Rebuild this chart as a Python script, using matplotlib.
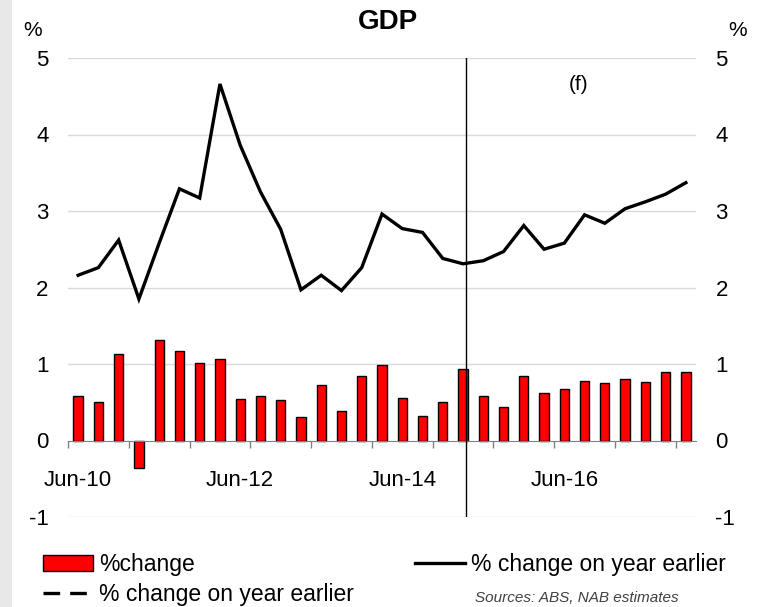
import numpy as np
import matplotlib.pyplot as plt
from matplotlib.lines import Line2D
from matplotlib.patches import Patch, Rectangle
from matplotlib.ticker import FixedLocator, NullFormatter

plt.rcParams['font.family'] = ['Liberation Sans', 'DejaVu Sans']

quarters = [
    "Jun-10", "Sep-10", "Dec-10", "Mar-11", "Jun-11", "Sep-11", "Dec-11", "Mar-12",
    "Jun-12", "Sep-12", "Dec-12", "Mar-13", "Jun-13", "Sep-13", "Dec-13", "Mar-14",
    "Jun-14", "Sep-14", "Dec-14", "Mar-15", "Jun-15", "Sep-15", "Dec-15", "Mar-16",
    "Jun-16", "Sep-16", "Dec-16", "Mar-17", "Jun-17", "Sep-17", "Dec-17",
]
qoq_change = [
    0.58, 0.50, 1.13, -0.36, 1.31, 1.17, 1.01, 1.07,
    0.54, 0.58, 0.53, 0.31, 0.73, 0.39, 0.84, 0.99,
    0.56, 0.32, 0.50, 0.94, 0.58, 0.44, 0.84, 0.62,
    0.67, 0.78, 0.75, 0.80, 0.77, 0.89, 0.89,
]
yoy_change = [
    2.16, 2.26, 2.62, 1.85, 2.58, 3.29, 3.17, 4.66,
    3.86, 3.25, 2.76, 1.97, 2.16, 1.96, 2.26, 2.96,
    2.77, 2.72, 2.38, 2.31, 2.35, 2.47, 2.81, 2.50,
    2.58, 2.95, 2.84, 3.03, 3.12, 3.22, 3.37,
]
shown_labels = ["Jun-10", "Jun-12", "Jun-14", "Jun-16"]
forecast_start = 19.15

W, H = 764, 607
fig = plt.figure(figsize=(W / 100, H / 100), dpi=100)
fig.patches.append(Rectangle((0, 0), 12 / W, 1, transform=fig.transFigure,
                             facecolor="#e8e8e8", edgecolor="none", zorder=0))

ax = fig.add_axes([68 / W, 1 - 517 / H, (696 - 68) / W, (517 - 58) / H])
x = np.arange(len(quarters))

ax.bar(x, qoq_change, width=0.46, color="#ff0000", edgecolor="black",
       linewidth=1, zorder=3)
ax.plot(x, yoy_change, color="black", linewidth=2.4, zorder=4,
        solid_joinstyle="miter")
ax.axvline(forecast_start, color="black", linewidth=1, zorder=5)

ax.set_xlim(-0.5, len(quarters) - 0.5)
ax.set_ylim(-1, 5)

for s in ["top", "right", "left"]:
    ax.spines[s].set_visible(False)
ax.spines["bottom"].set_position(("data", 0))
ax.spines["bottom"].set_color("#808080")
ax.spines["bottom"].set_zorder(4)

ax.set_yticks([-1, 0, 1, 2, 3, 4, 5])
ax.set_yticklabels(["-1", "0", "1", "2", "3", "4", "5"])
for v in [-1, 1, 2, 3, 4, 5]:
    ax.axhline(v, color="#d9d9d9", linewidth=1, zorder=1)
ax.tick_params(axis="y", length=0, labelsize=16, pad=14,
               labelleft=True, labelright=True)

ax.set_xticks([quarters.index(q) for q in shown_labels])
ax.set_xticklabels(shown_labels)
ax.xaxis.set_minor_locator(FixedLocator(np.arange(-0.5, len(quarters), 3)))
ax.xaxis.set_minor_formatter(NullFormatter())
ax.tick_params(axis="x", which="major", length=0, labelsize=16, pad=21)
ax.tick_params(axis="x", which="minor", length=5, width=1, color="#808080",
               direction="out")

ax.text(24.7, 4.66, "(f)", fontsize=15, ha="center", va="center")

fig.text(388 / W, 1 - 22 / H, "GDP", fontsize=20, fontweight="bold",
         ha="center", va="center")
fig.text(33 / W, 1 - 30 / H, "%", fontsize=15, ha="center", va="center")
fig.text(738 / W, 1 - 30 / H, "%", fontsize=15, ha="center", va="center")

handles = [
    Patch(facecolor="#ff0000", edgecolor="black", linewidth=1),
    Line2D([], [], color="black", linewidth=2.4, dashes=(5, 3)),
    Line2D([], [], color="black", linewidth=2.4),
]
labels = ["%change", "% change on year earlier", "% change on year earlier"]
fig.legend(handles, labels, ncol=2, loc="upper left",
           bbox_to_anchor=(43 / W, 1 - 553 / H), frameon=False, fontsize=16.5,
           handlelength=2.2, handletextpad=0.25, columnspacing=2.65,
           labelspacing=0.3, borderpad=0, borderaxespad=0)

fig.text(475 / W, 1 - 605 / H, "Sources: ABS, NAB estimates", fontsize=11,
         style="italic", color="#404040", ha="left", va="bottom")

fig.savefig("out.png", dpi=100)
